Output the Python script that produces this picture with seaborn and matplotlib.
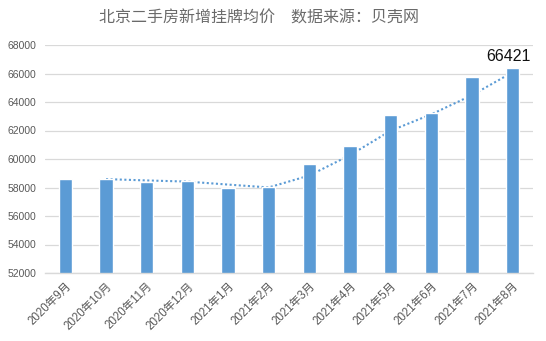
import numpy as np
import pandas as pd
import matplotlib
matplotlib.use("Agg")
import matplotlib.pyplot as plt
import seaborn as sns

# Monthly average listing price of newly listed second-hand homes in Beijing
months = ["2020年9月", "2020年10月", "2020年11月", "2020年12月", "2021年1月", "2021年2月",
          "2021年3月", "2021年4月", "2021年5月", "2021年6月", "2021年7月", "2021年8月"]
prices = [58580, 58600, 58390, 58440, 57970, 58040,
          59640, 60900, 63070, 63200, 65760, 66421]
y_ticks = [52000, 54000, 56000, 58000, 60000, 62000, 64000, 66000, 68000]
title = "北京二手房新增挂牌均价　数据来源：贝壳网"

sns.set_theme(style="white")
plt.rcParams["font.family"] = ["Liberation Sans", "Noto Sans CJK SC", "DejaVu Sans"]

bar_color = "#5b9bd5"
text_gray = "#595959"
grid_gray = "#d9d9d9"

df = pd.DataFrame({"month": months, "price": prices})
df["trend"] = df["price"].rolling(2).mean()  # 2-period moving average trendline

fig = plt.figure(figsize=(5.46, 3.41), dpi=100)
ax = fig.add_axes([45 / 546, 1 - 273 / 341, 488 / 546, 228 / 341])

# trendline behind the bars
sns.lineplot(x=np.arange(len(months)), y=df["trend"], ax=ax, color=bar_color,
             lw=1.5, linestyle=(0, (1, 1.2)), zorder=1)

sns.barplot(data=df, x="month", y="price", ax=ax, color=bar_color,
            saturation=1, width=0.32, zorder=2)
for p in ax.patches:
    p.set_zorder(2)

ax.set_ylim(y_ticks[0], y_ticks[-1])
ax.set_xlim(-0.5, len(months) - 0.5)
ax.set_yticks(y_ticks)
ax.set_yticklabels([str(v) for v in y_ticks])
ax.set_xlabel("")
ax.set_ylabel("")

ax.yaxis.grid(True, color=grid_gray, lw=0.9)
ax.set_axisbelow(True)
for s in ["left", "right", "top"]:
    ax.spines[s].set_visible(False)
ax.spines["bottom"].set_color(grid_gray)
ax.spines["bottom"].set_linewidth(1.0)

ax.tick_params(axis="y", length=0, labelsize=7.5, labelcolor=text_gray, pad=6)
ax.tick_params(axis="x", which="major", length=0, labelsize=8.3,
               labelcolor=text_gray, pad=5)
ax.set_xticks(np.arange(-0.5, len(months)), minor=True)
ax.tick_params(axis="x", which="minor", length=5, width=1.0, color=grid_gray,
               direction="out")
for lbl in ax.get_xticklabels():
    lbl.set_rotation(45)
    lbl.set_ha("right")
    lbl.set_rotation_mode("anchor")

# value label on the latest month
last = len(prices) - 1
ax.annotate(str(prices[last]), xy=(last, prices[last]), xytext=(-3, 5),
            textcoords="offset points", ha="center", va="baseline",
            fontsize=11.5, color="#111111")

fig.text(259 / 546, 1 - 18 / 341, title, ha="center", va="center",
         fontsize=11.5, color="#6a6a6a", family=["Noto Sans CJK SC", "DejaVu Sans"])

fig.savefig("out.png", dpi=100, facecolor="white")
